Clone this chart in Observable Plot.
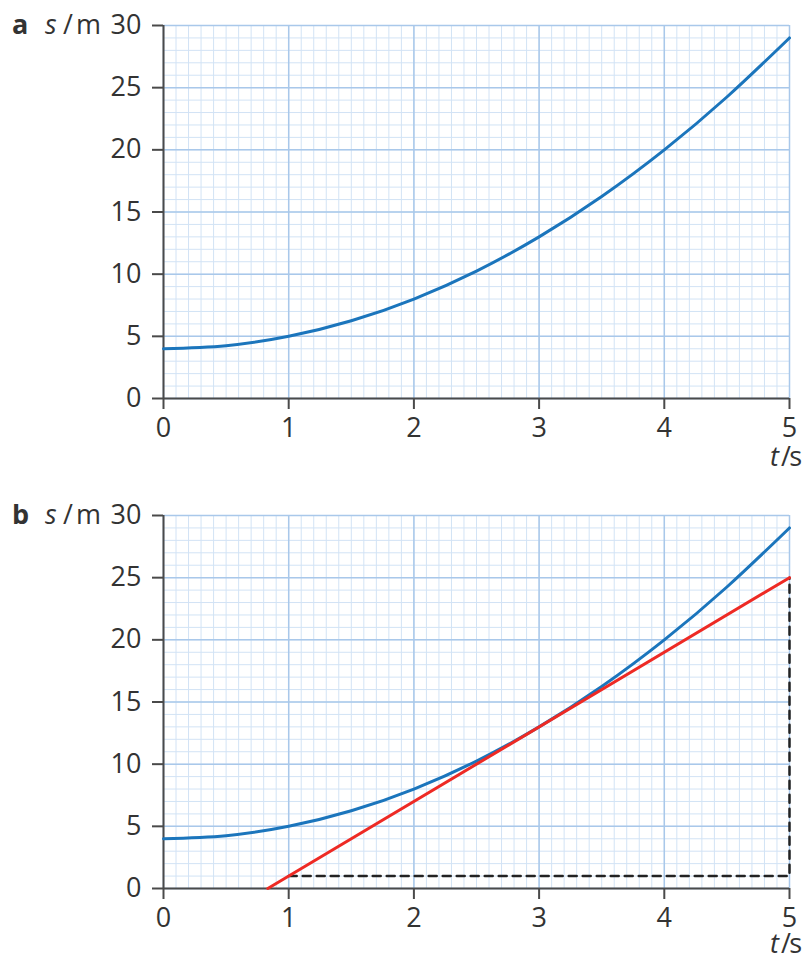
<!DOCTYPE html>
<html>
<head>
<meta charset="utf-8">
<script src="https://cdn.jsdelivr.net/npm/d3@7"></script>
<script src="https://cdn.jsdelivr.net/npm/@observablehq/plot@0.6"></script>
<style>
  html, body { margin: 0; padding: 0; background: #fff; overflow: hidden; }
  #chart { width: 803px; }
  #chart svg { display: block; max-width: none !important; }
</style>
</head>
<body>
<div id="chart"></div>
<script>
// Curve s(t)
const tValues = [0, 0.5, 1, 1.5, 2, 2.5, 3, 3.5, 4, 4.5, 5];
const sValues = [4, 4.25, 5, 6.25, 8, 10.25, 13, 16.25, 20, 24.25, 29];
// Tangent (panel b)
const tangentT = [0.833, 5];
const tangentS = [0, 25];
// Dashed construction lines (panel b)
const dashT = [1, 5, 5];
const dashS = [1, 1, 25];
// Tick labels
const xTicks = [0, 1, 2, 3, 4, 5];
const yTicks = [0, 5, 10, 15, 20, 25, 30];
// Grid spacing
const xMinor = d3.range(0, 51).map(i => i / 10);
const yMinor = d3.range(0, 31);

const curve = tValues.map((t, i) => ({t, s: sValues[i]}));
const tangent = tangentT.map((t, i) => ({t, s: tangentS[i]}));
const dashed = dashT.map((t, i) => ({t, s: dashS[i]}));

const FONT = "'Open Sans', 'DejaVu Sans', sans-serif";
const AXIS = "#4a4a4a";
const FS = 27;

function label(g, x, y, txt, anchor, extra) {
  g.append("text")
    .attr("x", x).attr("y", y)
    .attr("text-anchor", anchor)
    .attr("style", `font-family:${FONT};font-size:${FS}px;fill:#333;${extra || ""}`)
    .text(txt);
}

function panel(letter, withTangent, height, marginBottom, tsBaseline) {
  const marks = [
    Plot.ruleX(xMinor, {stroke: "#d2e3f5", strokeWidth: 1}),
    Plot.ruleY(yMinor, {stroke: "#d2e3f5", strokeWidth: 1}),
    Plot.ruleX(xTicks, {stroke: "#a9c8ea", strokeWidth: 1.5}),
    Plot.ruleY(yTicks, {stroke: "#a9c8ea", strokeWidth: 1.5}),
    Plot.ruleY([0], {stroke: AXIS, strokeWidth: 2}),
    Plot.ruleX([0], {stroke: AXIS, strokeWidth: 2}),
    Plot.line(curve, {x: "t", y: "s", curve: "natural", stroke: "#1b75bc", strokeWidth: 3})
  ];
  if (withTangent) {
    marks.push(Plot.line(dashed, {x: "t", y: "s", stroke: "#222", strokeWidth: 2.5, strokeDasharray: "8,6"}));
    marks.push(Plot.line(tangent, {x: "t", y: "s", stroke: "#ee2a24", strokeWidth: 3}));
  }
  marks.push(Plot.axisX({ticks: xTicks, tickSize: 11, tickPadding: 8, tickFormat: d => String(d), stroke: AXIS, strokeWidth: 2, color: "#333", fontSize: FS, label: null}));
  marks.push(Plot.axisY({ticks: yTicks, tickSize: 11, tickPadding: 11, tickFormat: d => String(d), stroke: AXIS, strokeWidth: 2, color: "#333", fontSize: FS, label: null}));

  const svg = Plot.plot({
    width: 803,
    height,
    marginTop: 25,
    marginBottom,
    marginLeft: 163,
    marginRight: 14,
    x: {domain: [0, 5]},
    y: {domain: [0, 30]},
    style: {fontSize: FS + "px", fontFamily: FONT, background: "#fff", overflow: "visible"},
    marks
  });

  const g = d3.select(svg).append("g");
  label(g, 12, 34, letter, "start", "font-weight:bold");
  label(g, 45, 34, "s", "start", "font-style:italic");
  label(g, 68, 34, "/", "middle");
  label(g, 101, 34, "m", "end");
  label(g, 779, tsBaseline, "t", "end", "font-style:italic");
  label(g, 786, tsBaseline, "/", "middle");
  label(g, 802, tsBaseline, "s", "end");
  return svg;
}

const root = document.getElementById("chart");
root.appendChild(panel("a", false, 490, 92, 466));
root.appendChild(panel("b", true, 470, 72, 463));
</script>
</body>
</html>
